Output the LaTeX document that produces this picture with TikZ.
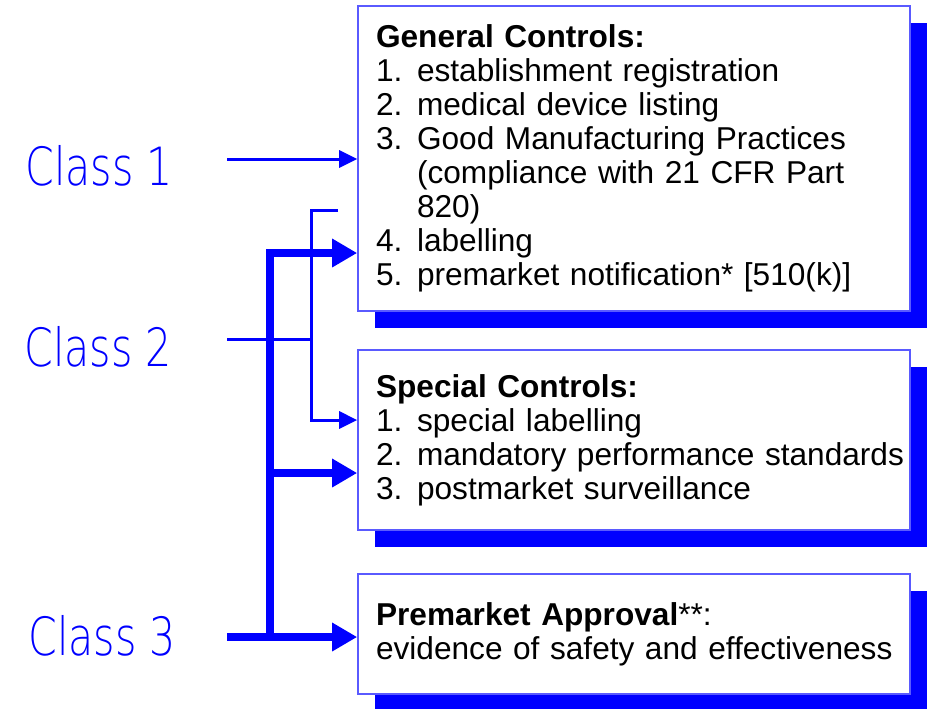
\documentclass[tikz,border=0pt]{standalone}
\usepackage{fontspec}
\setmainfont{Liberation Sans}
\IfFontExistsTF{DejaVu Sans ExtraLight}
  {\newfontfamily\classfont[FakeStretch=0.78]{DejaVu Sans ExtraLight}}
  {\newfontfamily\classfont[FakeStretch=0.81]{Liberation Sans}}
\usetikzlibrary{arrows.meta,shadows}
\definecolor{PureBlue}{RGB}{0,0,255}
\definecolor{EdgeBlue}{RGB}{90,90,255}
\tikzset{
  ctrlbox/.style={draw=EdgeBlue,line width=1pt,fill=white,
    minimum width=11.04cm,text width=10.32cm,inner xsep=0.36cm,align=left,
    font=\fontsize{18}{19.4}\selectfont,
    drop shadow={fill=PureBlue,opacity=1,shadow xshift=0.34cm,shadow yshift=-0.34cm}},
  classlabel/.style={text=PureBlue,font=\classfont\fontsize{30}{30}\selectfont},
  thinarrow/.style={-{Triangle[length=0.36cm,width=0.34cm]},line width=0.06cm,PureBlue},
  thinline/.style={line width=0.06cm,PureBlue},
  thickarrow/.style={-{Triangle[length=0.5cm,width=0.54cm]},line width=0.17cm,PureBlue}
}
\newcommand{\litem}[2]{\mbox{\makebox[0.82cm][l]{#1}#2}}
\newcommand{\lcont}[1]{\mbox{\hspace*{0.82cm}#1}}

\begin{document}
\begin{tikzpicture}[x=0.02cm,y=-0.02cm]
  \useasboundingbox (0,0) rectangle (928,708);
  % control boxes
  \node[ctrlbox,minimum height=6.1cm] (general) at (634,158.5) {\textbf{General Controls:}\\
    \litem{1.}{establishment registration}\\
    \litem{2.}{medical device listing}\\
    \litem{3.}{Good Manufacturing Practices}\\
    \lcont{(compliance with 21 CFR Part}\\
    \lcont{820)}\\
    \litem{4.}{labelling}\\
    \litem{5.}{premarket notification* [510(k)]}};
  \node[ctrlbox,minimum height=3.6cm] (special) at (634,440) {\textbf{Special Controls:}\\
    \litem{1.}{special labelling}\\
    \litem{2.}{mandatory performance standards}\\
    \litem{3.}{postmarket surveillance}};
  \node[ctrlbox,minimum height=2.4cm] (pma) at (634,634) {\textbf{Premarket Approval}**:\\
    \mbox{evidence of safety and effectiveness}};
  % class labels
  \node[classlabel] (cls1) at (99,166) {Class 1};
  \node[classlabel] (cls2) at (98,347) {Class 2};
  \node[classlabel] (cls3) at (102,636) {Class 3};
  % connector points
  \coordinate (c1) at (227,159);
  \coordinate (c2) at (227,339);
  \coordinate (c3) at (227,637);
  \coordinate (thinbus) at (311,339);
  \coordinate (stub) at (338,210);
  \coordinate (thintop) at (311,210);
  \coordinate (thinbot) at (311,420);
  \coordinate (thickbus) at (270,637);
  \coordinate (thicktop) at (270,253);
  \coordinate (thickmid) at (270,473);
  % class 1
  \draw[thinarrow] (c1) -- (c1 -| general.west);
  % class 2
  \draw[thinline] (c2) -- (thinbus);
  \draw[thinarrow] (stub) -- (thintop) -- (thinbot) -- (thinbot -| special.west);
  % class 3
  \draw[thickarrow] (c3) -- (c3 -| pma.west);
  \draw[thickarrow] (thickbus) -- (thicktop) -- (thicktop -| general.west);
  \draw[thickarrow] (thickmid) -- (thickmid -| special.west);
\end{tikzpicture}
\end{document}
